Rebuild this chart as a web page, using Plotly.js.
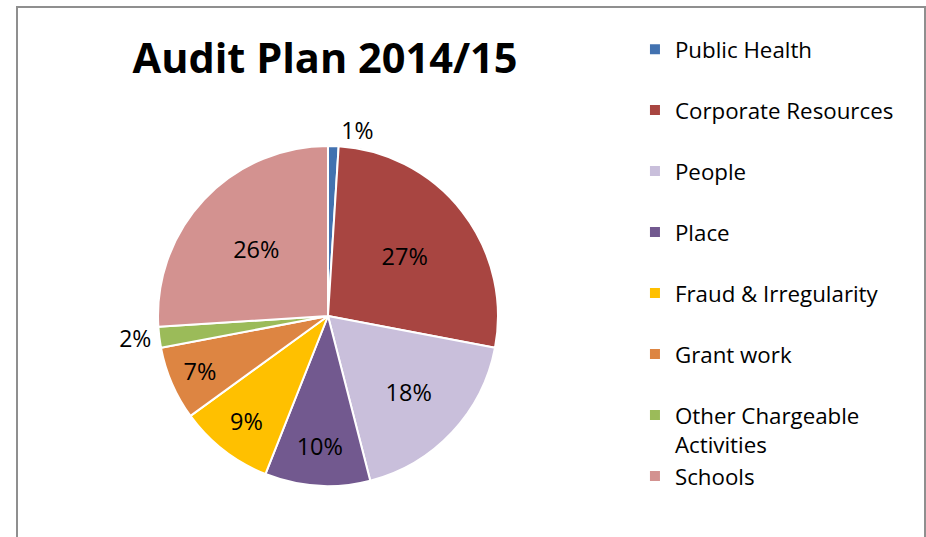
<!DOCTYPE html>
<html>
<head>
<meta charset="utf-8">
<script src="https://cdn.plot.ly/plotly-3.0.1.min.js"></script>
<style>
  html, body { margin: 0; padding: 0; background: #fff; overflow: hidden; }
  #chart { width: 926px; height: 537px; }
  #frame { position: absolute; left: 16px; top: 6px; width: 906px; height: 560px;
           border: 2px solid #8f8f8f; pointer-events: none; }
</style>
</head>
<body>
<div id="chart"></div>
<div id="frame"></div>
<script>
const categories = ["Public Health", "Corporate Resources", "People", "Place",
  "Fraud & Irregularity", "Grant work", "Other Chargeable<br>Activities", "Schools"];
const values = [1, 27, 18, 10, 9, 7, 2, 26];
const colors = ["#4272b0", "#a84541", "#c9bfdb", "#72598f", "#ffc000", "#dd8542", "#9bbb59", "#d39290"];
const labelPositions = ["outside", "inside", "inside", "inside", "inside", "inside", "outside", "inside"];

// legend labels padded to two lines so every entry has the same height
const legendLabels = categories.map(c => c.indexOf("<br>") >= 0 ? c : c + "<br> ");

const FONT = "'Open Sans', Lato, sans-serif";

const trace = {
  type: "pie",
  labels: legendLabels,
  values: values,
  sort: false,
  direction: "clockwise",
  rotation: 0,
  marker: { colors: colors, line: { color: "#ffffff", width: 2 } },
  textinfo: "percent",
  texttemplate: "%{percent:.0%}",
  textposition: labelPositions,
  insidetextorientation: "horizontal",
  textfont: { family: FONT, size: 23, color: "#000" },
  outsidetextfont: { family: FONT, size: 23, color: "#000" },
  insidetextfont: { family: FONT, size: 23.5, color: "#000" },
  domain: { x: [0.1706, 0.5378], y: [0.095, 0.7281] },
  hoverinfo: "label+percent"
};

const layout = {
  width: 926, height: 537,
  margin: { l: 0, r: 0, t: 0, b: 0 },
  paper_bgcolor: "#fff",
  font: { family: FONT, color: "#000" },
  title: {
    text: "<b>Audit Plan 2014/15</b>",
    font: { family: FONT, size: 41.5, color: "#000" },
    x: 0.351, xanchor: "center", y: 0.891, yanchor: "middle"
  },
  showlegend: true,
  legend: {
    x: 0.6857, xanchor: "left", y: 0.9476, yanchor: "top",
    font: { family: FONT, size: 22.3, color: "#000" },
    valign: "top", itemwidth: 30, bgcolor: "rgba(0,0,0,0)"
  }
};

Plotly.newPlot("chart", [trace], layout, { staticPlot: true });
</script>
</body>
</html>
